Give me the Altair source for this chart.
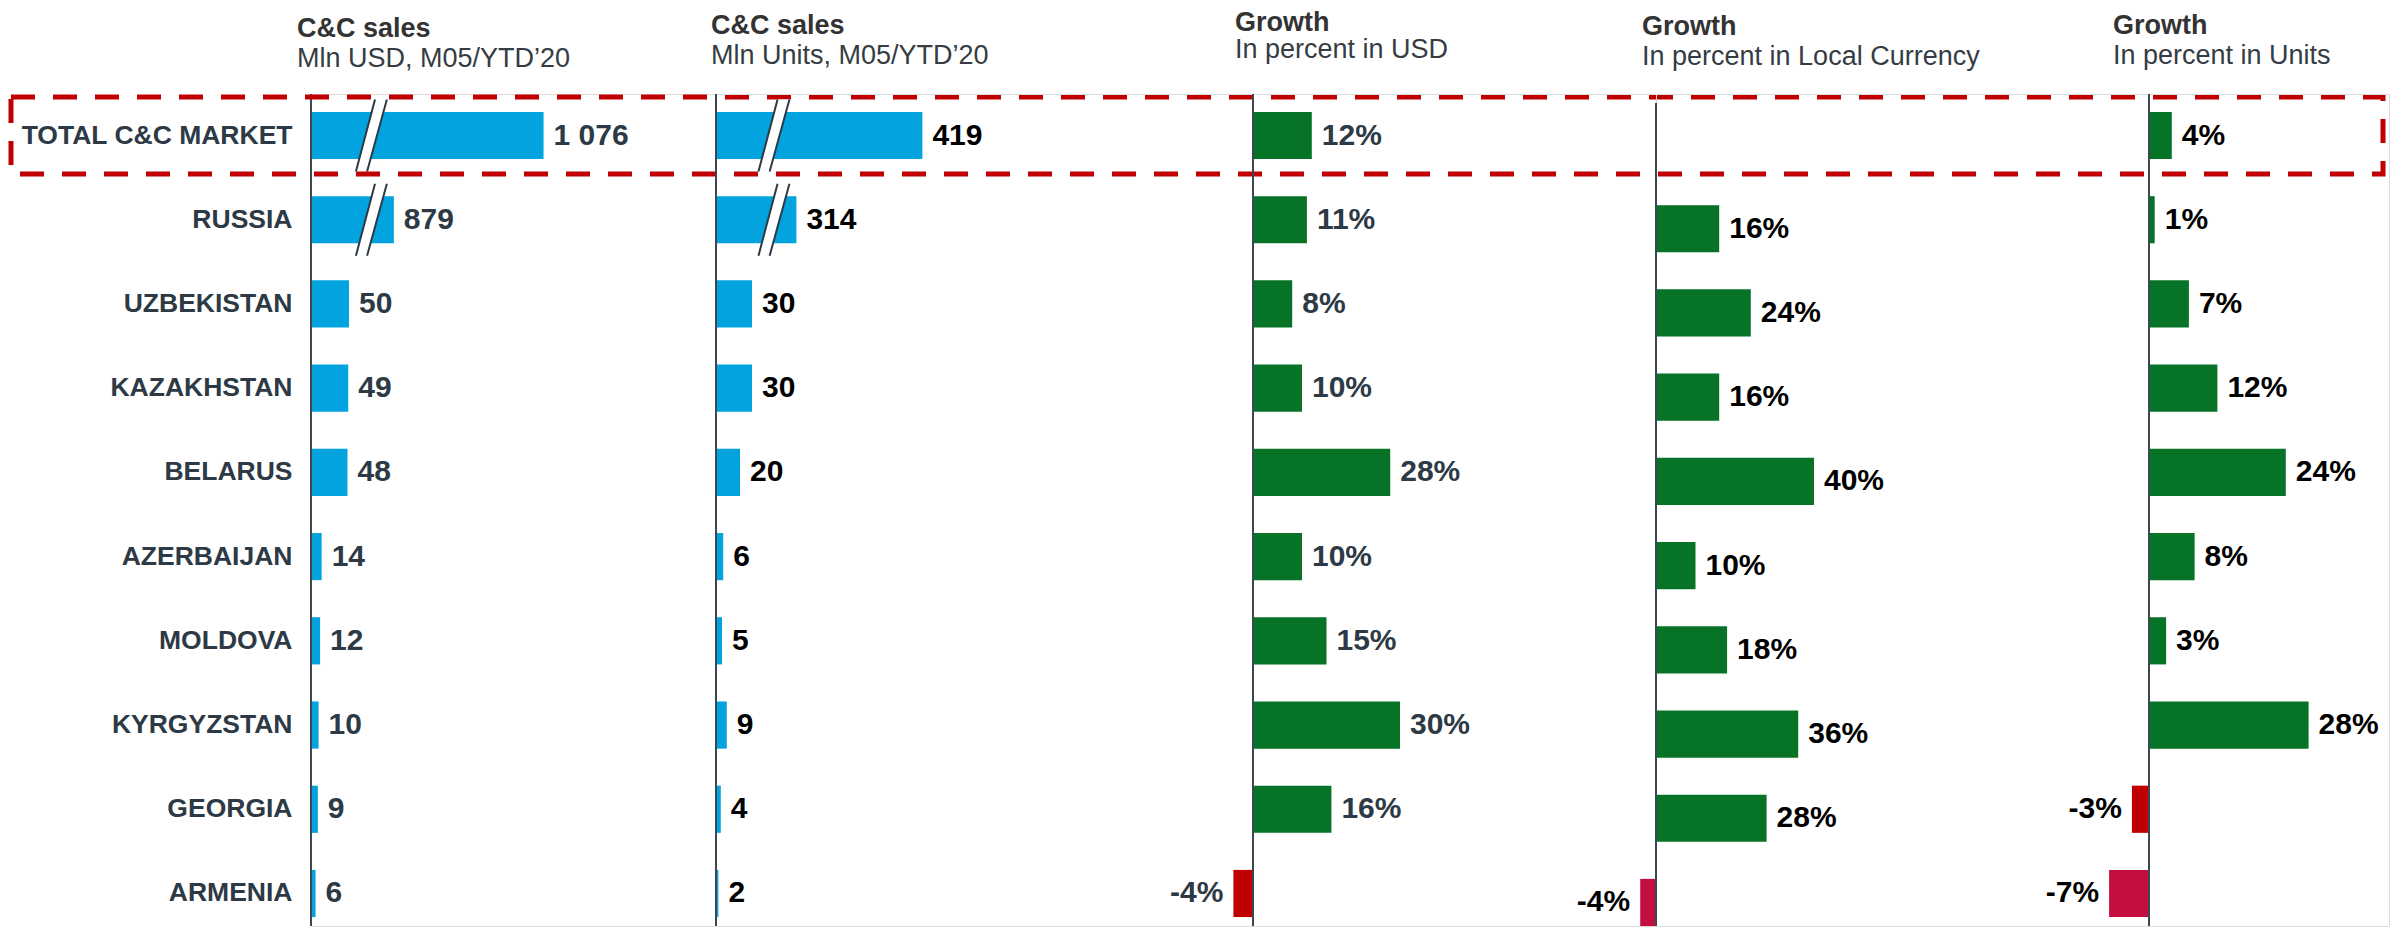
import altair as alt
import pandas as pd

# ---------------- data ----------------
categories = ["TOTAL C&C MARKET", "RUSSIA", "UZBEKISTAN", "KAZAKHSTAN", "BELARUS",
              "AZERBAIJAN", "MOLDOVA", "KYRGYZSTAN", "GEORGIA", "ARMENIA"]
sales_usd = [1076, 879, 50, 49, 48, 14, 12, 10, 9, 6]          # Mln USD, M05/YTD'20
sales_units = [419, 314, 30, 30, 20, 6, 5, 9, 4, 2]            # Mln Units, M05/YTD'20
growth_usd = [12, 11, 8, 10, 28, 10, 15, 30, 16, -4]            # % in USD
growth_lc = [None, 16, 24, 16, 40, 10, 18, 36, 28, -4]          # % in local currency
growth_units = [4, 1, 7, 12, 24, 8, 3, 28, -3, -7]              # % in units

df = pd.DataFrame({
    "cat": categories,
    "usd": sales_usd,
    "units": sales_units,
    "gusd": growth_usd,
    "glc": growth_lc,
    "gunits": growth_units,
})
df["usd_label"] = [f"{v:,}".replace(",", " ") for v in sales_usd]
df["units_label"] = [f"{v:,}".replace(",", " ") for v in sales_units]

# broken-axis settings (values above the threshold have a chunk cut out)
USD_BREAK_OVER, USD_CUT, USD_BREAK_AT = 500, 770, 79
UNITS_BREAK_OVER, UNITS_CUT, UNITS_BREAK_AT = 200, 247, 48

# ---------------- style ----------------
FONT = "Liberation Sans"
SLATE = "#2D3A45"
AXIS_COL = "#3B4852"
BLUE = "#02A3DF"
GREEN = "#067326"
RED = "#C00000"
CRIMSON = "#C40E3F"
TITLE_COL = "#333333"
SUB_COL = "#353C43"

H = 832
Y_RANGE = [0, 841]
WIDTHS = [405, 537, 403, 493, 240]
PPU = [0.76, 1.2, 4.9, 3.95, 5.7]   # pixels per unit in each panel

BREAK_FILL = "M0.11,-1L0.44,-1L-0.11,1L-0.42,1Z"
BREAK_LINES = "M0.11,-1L-0.42,1M0.44,-1L-0.11,1"


def yenc(rng=Y_RANGE, axis=None):
    return alt.Y("cat:N", sort=categories,
                 scale=alt.Scale(domain=categories, range=rng,
                                 paddingInner=0.44, paddingOuter=0.213),
                 axis=axis)


def xscale(i):
    return alt.Scale(domain=[0, WIDTHS[i] / PPU[i]], nice=False, zero=False)


def title(text, sub, dx, offset, pad=3):
    return alt.TitleParams(text=text, subtitle=sub, anchor="start", frame="group",
                           dx=dx, offset=offset, font=FONT, fontSize=27,
                           fontWeight="bold", color=TITLE_COL,
                           subtitleFont=FONT, subtitleFontSize=27,
                           subtitleFontWeight="normal", subtitleColor=SUB_COL,
                           subtitlePadding=pad)


one_row = pd.DataFrame({"z": [0]})


def axis_rule(i, y_off=0):
    kw = {"yOffset": y_off} if y_off else {}
    return alt.Chart(one_row).mark_rule(color=AXIS_COL, strokeWidth=2, **kw).encode(
        x=alt.X("z:Q", scale=xscale(i), axis=None))


def sales_panel(i, field, label, cut_over, cut, break_at, txt_color, ttl,
                y_axis=None, extra=()):
    base = alt.Chart(df).transform_calculate(
        drawn=f"datum.{field} > {cut_over} ? datum.{field} - {cut} : datum.{field}")
    x = alt.X("drawn:Q", scale=xscale(i), axis=None)
    y = yenc(axis=y_axis)
    bars = base.mark_bar(color=BLUE).encode(x=x, y=y)
    txt = base.mark_text(align="left", baseline="middle", dx=10, font=FONT,
                         fontSize=30, fontWeight="bold", color=txt_color).encode(
        x=x, y=y, text=f"{label}:N")
    brk = alt.Chart(df).transform_filter(f"datum.{field} > {cut_over}").transform_calculate(
        bx=f"{break_at}")
    bx = alt.X("bx:Q", scale=xscale(i), axis=None)
    brk_fill = brk.mark_point(shape=BREAK_FILL, size=5184, filled=True, fill="white",
                              strokeWidth=0, opacity=1).encode(x=bx, y=y)
    brk_lines = brk.mark_point(shape=BREAK_LINES, size=5184, filled=False,
                               stroke=SLATE, strokeWidth=2, opacity=1).encode(x=bx, y=y)
    layers = [bars, brk_fill, brk_lines, txt, axis_rule(i)] + list(extra)
    return alt.layer(*layers).properties(width=WIDTHS[i], height=H, title=ttl)


def growth_panel(i, field, txt_color, ttl, crimson_cats, rng=Y_RANGE, rule_off=0):
    crim = " || ".join([f"datum.cat == '{c}'" for c in crimson_cats]) or "false"
    base = alt.Chart(df).transform_filter(f"isValid(datum.{field})").transform_calculate(
        tone=f"datum.{field} < 0 ? (({crim}) ? 'neg2' : 'neg') : 'pos'",
        lab=f"datum.{field} + '%'")
    x = alt.X(f"{field}:Q", scale=xscale(i), axis=None)
    bars = base.mark_bar().encode(
        x=x, y=yenc(rng),
        color=alt.Color("tone:N", scale=alt.Scale(domain=["pos", "neg", "neg2"],
                                                  range=[GREEN, RED, CRIMSON]),
                        legend=None))
    tpos = base.transform_filter(f"datum.{field} >= 0").mark_text(
        align="left", baseline="middle", dx=10, font=FONT, fontSize=30,
        fontWeight="bold", color=txt_color).encode(x=x, y=yenc(rng), text="lab:N")
    tneg = base.transform_filter(f"datum.{field} < 0").mark_text(
        align="right", baseline="middle", dx=-10, font=FONT, fontSize=30,
        fontWeight="bold", color=txt_color).encode(x=x, y=yenc(rng), text="lab:N")
    return alt.layer(bars, tpos, tneg, axis_rule(i, rule_off)).properties(
        width=WIDTHS[i], height=H, title=ttl)


y_axis_1 = alt.Axis(title=None, domain=False, ticks=False, tickSize=0,
                    labelPadding=19, labelFont=FONT, labelFontSize=26.5,
                    labelFontWeight="bold", labelColor=SLATE, labelLimit=420,
                    grid=False)

box = alt.Chart(one_row).mark_rect(filled=False, stroke=RED, strokeWidth=5,
                                   strokeDash=[24, 18]).encode(
    x=alt.value(-300), x2=alt.value(2072), y=alt.value(3), y2=alt.value(80))

p1 = sales_panel(0, "usd", "usd_label", USD_BREAK_OVER, USD_CUT, USD_BREAK_AT, SLATE,
                 title("C&C sales", "Mln USD, M05/YTD’20", -14, 20), y_axis=y_axis_1,
                 extra=[box])
p2 = sales_panel(1, "units", "units_label", UNITS_BREAK_OVER, UNITS_CUT, UNITS_BREAK_AT,
                 "#000000", title("C&C sales", "Mln Units, M05/YTD’20", -5, 23))
p3 = growth_panel(2, "gusd", SLATE, title("Growth", "In percent in USD", -18, 29, pad=0), [])
p4 = growth_panel(3, "glc", "#000000",
                  title("Growth", "In percent in Local Currency", -14, 23),
                  ["ARMENIA"], rng=[9, 850], rule_off=9)
p5 = growth_panel(4, "gunits", "#000000",
                  title("Growth", "In percent in Units", -36, 23), ["ARMENIA"])

chart = alt.hconcat(p1, p2, p3, p4, p5, spacing=0, bounds="flush").properties(
    padding={"left": 0, "top": 0, "right": 0, "bottom": 0}
).configure_view(stroke="transparent", strokeWidth=0, strokeOpacity=0).configure(font=FONT)

chart.save("out.html", embed_options={"renderer": "svg", "actions": False})
